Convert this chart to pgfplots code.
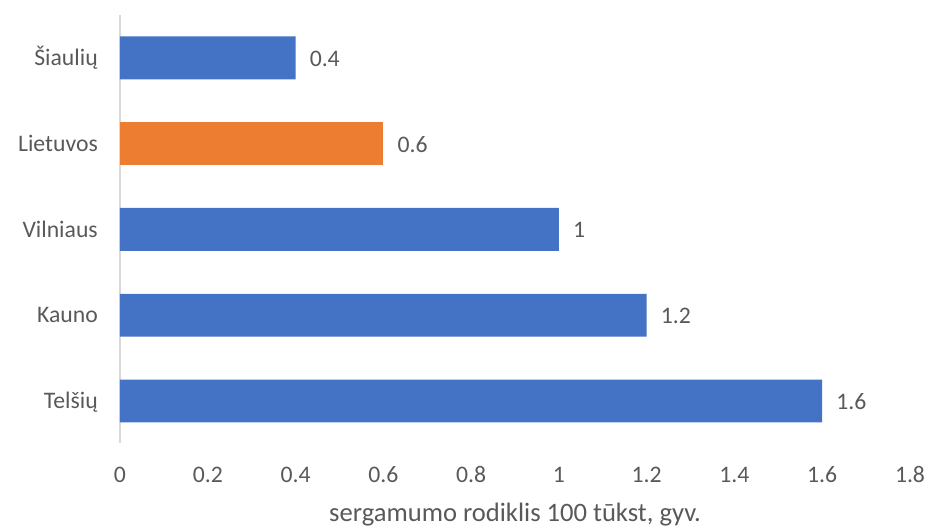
\documentclass[border=0pt]{standalone}
\usepackage{fontspec}
\setmainfont{Carlito}
\usepackage{pgfplots}
\pgfplotsset{compat=1.18}

\definecolor{barblue}{HTML}{4472C4}
\definecolor{barorange}{HTML}{ED7D31}
\definecolor{txtgray}{HTML}{595959}
\definecolor{axgray}{HTML}{D9D9D9}

\begin{document}
\fontsize{23.7}{28}\selectfont
\begin{tikzpicture}[x=1pt,y=1pt]
  % fix the page to the reference frame (927 x 527)
  \useasboundingbox (-120,-84) rectangle (807,443);
  \begin{axis}[
      at={(0,0)}, anchor=south west,
      scale only axis,
      width=790pt, height=428pt,
      xbar, bar width=0.5,
      xmin=0, xmax=1.8,
      ymin=-0.49, ymax=4.5,
      xtick={0,0.2,0.4,0.6,0.8,1,1.2,1.4,1.6,1.8},
      ytick={0,1,2,3,4},
      yticklabels={Telšių,Kauno,Vilniaus,Lietuvos\hspace{5.5pt},Šiaulių\hspace{6pt}},
      axis lines=left,
      axis line style={-},
      x axis line style={draw=none},
      y axis line style={draw=axgray, line width=1.5pt},
      major tick length=0pt,
      /pgf/number format/assume math mode=true,
      tick label style={text=txtgray, inner sep=0pt},
      xticklabel style={anchor=base, yshift=-40pt},
      yticklabel style={anchor=base east, xshift=-22pt, yshift=-7.6pt},
      xlabel={sergamumo rodiklis 100 tūkst, gyv.},
      xlabel style={at={(axis description cs:0.5,0)}, anchor=base,
                    yshift=-79pt, inner sep=0pt, text=txtgray,
                    font=\fontsize{26.6}{30}\selectfont},
      nodes near coords,
      every node near coord/.append style={text=txtgray, anchor=base west,
                    inner sep=0pt, xshift=14pt, yshift=-8.5pt},
  ]
  \addplot[draw=none, fill=barblue, bar shift=0pt]
    coordinates {
      (1.6,0)
      (1.2,1)
      (1,2)
      (0.4,4)
    };
  \addplot[draw=none, fill=barorange, bar shift=0pt]
    coordinates {
      (0.6,3)
    };
  \end{axis}
\end{tikzpicture}
\end{document}
